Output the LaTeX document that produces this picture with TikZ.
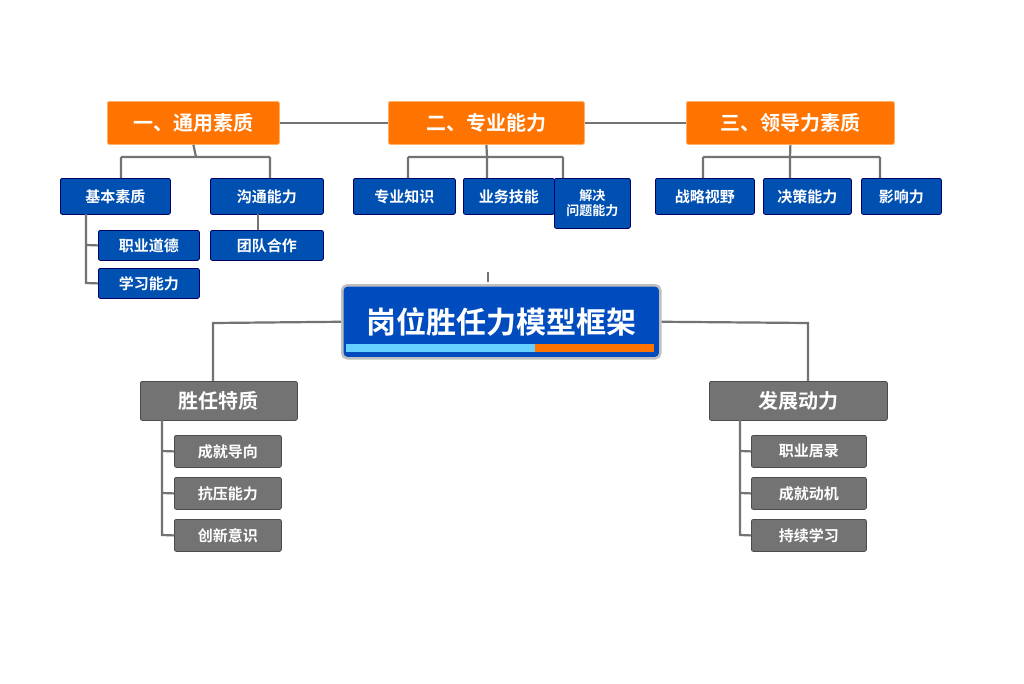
\documentclass[tikz,border=0pt]{standalone}
\usepackage{fontspec}
\newfontfamily\cjk{Noto Sans CJK SC}[BoldFont={Noto Sans CJK SC Bold}]
\begin{document}
\begin{tikzpicture}[x=1pt,y=-1pt,
 line/.style={draw=black!55,line width=2.2pt},
 bx/.style={rounded corners=2pt,text=white,font=\cjk\bfseries,inner sep=0pt,anchor=north west},
 org/.style={bx,fill=orange!90!red,draw=orange!60,line width=0.8pt},
 blu/.style={bx,fill=blue!55!cyan!70!black,draw=blue!40!black,line width=0.8pt},
 gry/.style={bx,fill=black!55,draw=black!70,line width=0.8pt}]
\useasboundingbox (0,0) rectangle (1024,683);
\fill[white] (0,0) rectangle (1024,683);
\newcommand\bxn[7]{\node[#1,minimum width=#4-#2,minimum height=#5-#3,font=\cjk\bfseries#7] (#6) at (#2,#3) {};}
% orange
\node[org,minimum width=172,minimum height=43,font=\cjk\bfseries\fontsize{20}{22}\selectfont] (o1) at (107,101) {一、通用素质};
\node[org,minimum width=196,minimum height=43,font=\cjk\bfseries\fontsize{20}{22}\selectfont] (o2) at (388,101) {二、专业能力};
\node[org,minimum width=208,minimum height=43,font=\cjk\bfseries\fontsize{20}{22}\selectfont] (o3) at (686,101) {三、领导力素质};
\draw[line] (o1.east) -- (o2.west) (o2.east) -- (o3.west);
% blue
\tikzset{bs/.style={blu,font=\cjk\bfseries\fontsize{15}{17}\selectfont}}
\node[bs,minimum width=110,minimum height=36] (b1) at (60,178) {基本素质};
\node[bs,minimum width=113,minimum height=36] (b2) at (210,178) {沟通能力};
\node[bs,minimum width=101,minimum height=30] (b3) at (98,230) {职业道德};
\node[bs,minimum width=101,minimum height=30] (b4) at (98,268) {学习能力};
\node[bs,minimum width=113,minimum height=30] (b5) at (210,230) {团队合作};
\node[bs,minimum width=102,minimum height=36] (p1) at (353,178) {专业知识};
\node[bs,minimum width=91,minimum height=36] (p2) at (463,178) {业务技能};
\node[blu,minimum width=76,minimum height=50,align=center,font=\cjk\bfseries\fontsize{13}{15}\selectfont] (p3) at (554,178) {解决\\问题能力};
\node[bs,minimum width=99,minimum height=36] (l1) at (655,178) {战略视野};
\node[bs,minimum width=88,minimum height=36] (l2) at (763,178) {决策能力};
\node[bs,minimum width=80,minimum height=36] (l3) at (861,178) {影响力};
\draw[line] (o1.south) -- (196,157) (121,157) -- (270,157) (121,157) -- (121,178) (270,157) -- (270,178);
\draw[line] (o2.south) -- (487,157) (408,157) -- (563,157) (408,157) -- (408,178) (487,157)--(487,178) (563,157) -- (563,178);
\draw[line] (o3.south) -- (790,157) (703,157) -- (880,157) (703,157) -- (703,178) (790,157)--(790,178) (880,157) -- (880,178);
\draw[line] (86,214) -- (86,283) -- (b4.west) (86,245) -- (b3.west);
\draw[line] (258,214) -- (258,230);
% title
\node[anchor=north west,minimum width=318,minimum height=73,fill=blue!60!cyan!75!black,draw=black!25,line width=2.5pt,rounded corners=5pt,text=white,font=\cjk\bfseries\fontsize{30}{32}\selectfont,inner sep=0pt] (t) at (341,284) {岗位胜任力模型框架};
\fill[blue!30!cyan!60] (346,344) rectangle (535,352);
\fill[orange!90!red] (535,344) -- (654,344) -- (654,352) -- (535,352) -- cycle;
\draw[line,line width=1.5pt] (488,272) -- (488,282);
% gray
\node[gry,minimum width=157,minimum height=39,font=\cjk\bfseries\fontsize{20}{22}\selectfont] (g1) at (140,381) {胜任特质};
\node[gry,minimum width=178,minimum height=39,font=\cjk\bfseries\fontsize{20}{22}\selectfont] (g2) at (709,381) {发展动力};
\draw[line] (t.west) -- (213,323) -- (213,381);
\draw[line] (t.east) -- (808,323) -- (808,381);
\tikzset{gs/.style={gry,font=\cjk\bfseries\fontsize{15}{17}\selectfont,minimum height=32}}
\node[gs,minimum width=107] (c1) at (174,435) {成就导向};
\node[gs,minimum width=107] (c2) at (174,477) {抗压能力};
\node[gs,minimum width=107] (c3) at (174,519) {创新意识};
\node[gs,minimum width=115] (d1) at (751,435) {职业居录};
\node[gs,minimum width=115] (d2) at (751,477) {成就动机};
\node[gs,minimum width=115] (d3) at (751,519) {持续学习};
\draw[line] (162,420) -- (162,535) -- (c3.west) (162,451) -- (c1.west) (162,493) -- (c2.west);
\draw[line] (740,420) -- (740,535) -- (d3.west) (740,451) -- (d1.west) (740,493) -- (d2.west);
\end{tikzpicture}
\end{document}
